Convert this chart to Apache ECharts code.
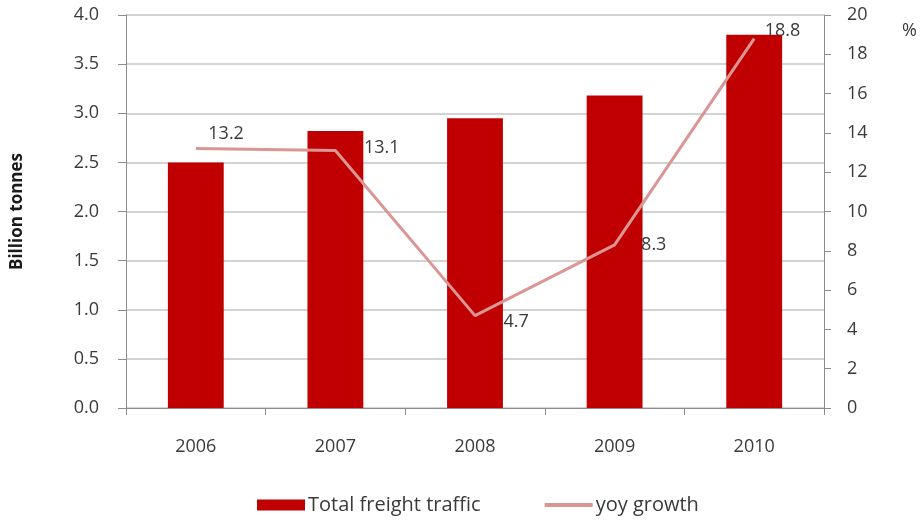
<!DOCTYPE html>
<html>
<head>
<meta charset="utf-8">
<script src="https://cdn.jsdelivr.net/npm/echarts@6/dist/echarts.min.js"></script>
<style>
html,body{margin:0;padding:0;background:#fff;}
#chart{width:922px;height:520px;}
</style>
</head>
<body>
<div id="chart"></div>
<script>
var categories = ['2006', '2007', '2008', '2009', '2010'];
var freightTraffic = [2.50, 2.82, 2.95, 3.18, 3.80];
var yoyGrowth = [13.2, 13.1, 4.7, 8.3, 18.8];
var leftTicks = [0, 4, 0.5];
var rightTicks = [0, 20, 2];

var labelOffsets = [[12, -15], [28, -3], [28, 6], [26, 0], [10, -8]];
var FONT = '"Open Sans", "Liberation Sans", sans-serif';

var lineData = yoyGrowth.map(function (v, i) {
  return { value: v, label: { offset: labelOffsets[i] } };
});

var chart = echarts.init(document.getElementById('chart'), null, { renderer: 'canvas' });
chart.setOption({
  animation: false,
  backgroundColor: '#ffffff',
  textStyle: { fontFamily: FONT },
  grid: { left: 126, right: 98, top: 15, bottom: 112, containLabel: false },
  legend: {
    left: 252, top: 490,
    itemWidth: 48, itemHeight: 11, itemGap: 62,
    textStyle: { fontFamily: FONT, fontSize: 20, color: '#3a3a3a', padding: [0, 0, 0, -2] },
    data: [
      { name: 'Total freight traffic', icon: 'rect' },
      { name: 'yoy growth', lineStyle: { width: 4, color: '#d99694' } }
    ]
  },
  graphic: [{
    type: 'text', left: 902, top: 22,
    style: { text: '%', fontFamily: FONT, fontSize: 18, fill: '#3a3a3a' }
  }],
  xAxis: {
    type: 'category',
    data: categories,
    boundaryGap: true,
    axisLine: { lineStyle: { color: '#8c8c8c', width: 1 } },
    axisTick: { show: true, alignWithLabel: false, length: 7, lineStyle: { color: '#8c8c8c' } },
    axisLabel: { margin: 30, fontFamily: FONT, fontSize: 18, color: '#3a3a3a' }
  },
  yAxis: [{
    type: 'value',
    min: leftTicks[0], max: leftTicks[1], interval: leftTicks[2],
    name: 'Billion tonnes',
    nameLocation: 'middle',
    nameGap: 100,
    nameTextStyle: { fontFamily: FONT, fontSize: 17, fontWeight: 'bold', color: '#1a1a1a' },
    axisLine: { show: true, lineStyle: { color: '#8c8c8c' } },
    axisTick: { show: true, length: 8, lineStyle: { color: '#8c8c8c' } },
    axisLabel: { margin: 27, fontFamily: FONT, fontSize: 18, color: '#3a3a3a',
      formatter: function (v) { return v.toFixed(1); } },
    splitLine: { show: true, lineStyle: { color: '#c4c4c4', width: 1.5 } }
  }, {
    type: 'value',
    min: rightTicks[0], max: rightTicks[1], interval: rightTicks[2],
    position: 'right',
    axisLine: { show: true, lineStyle: { color: '#8c8c8c' } },
    axisTick: { show: true, length: 7, lineStyle: { color: '#8c8c8c' } },
    axisLabel: { margin: 23, fontFamily: FONT, fontSize: 18, color: '#3a3a3a' },
    splitLine: { show: false }
  }],
  series: [{
    name: 'Total freight traffic',
    type: 'bar',
    data: freightTraffic,
    barWidth: '40%',
    yAxisIndex: 0,
    itemStyle: { color: '#c00000' }
  }, {
    name: 'yoy growth',
    type: 'line',
    data: lineData,
    yAxisIndex: 1,
    symbol: 'circle',
    symbolSize: 1,
    showSymbol: true,
    itemStyle: { color: 'rgba(217,150,148,0)' },
    lineStyle: { color: '#d99694', width: 3 },
    label: {
      show: true, position: 'right', distance: 0,
      fontFamily: FONT, fontSize: 18, color: '#3a3a3a'
    },
    z: 3
  }]
});
</script>
</body>
</html>
